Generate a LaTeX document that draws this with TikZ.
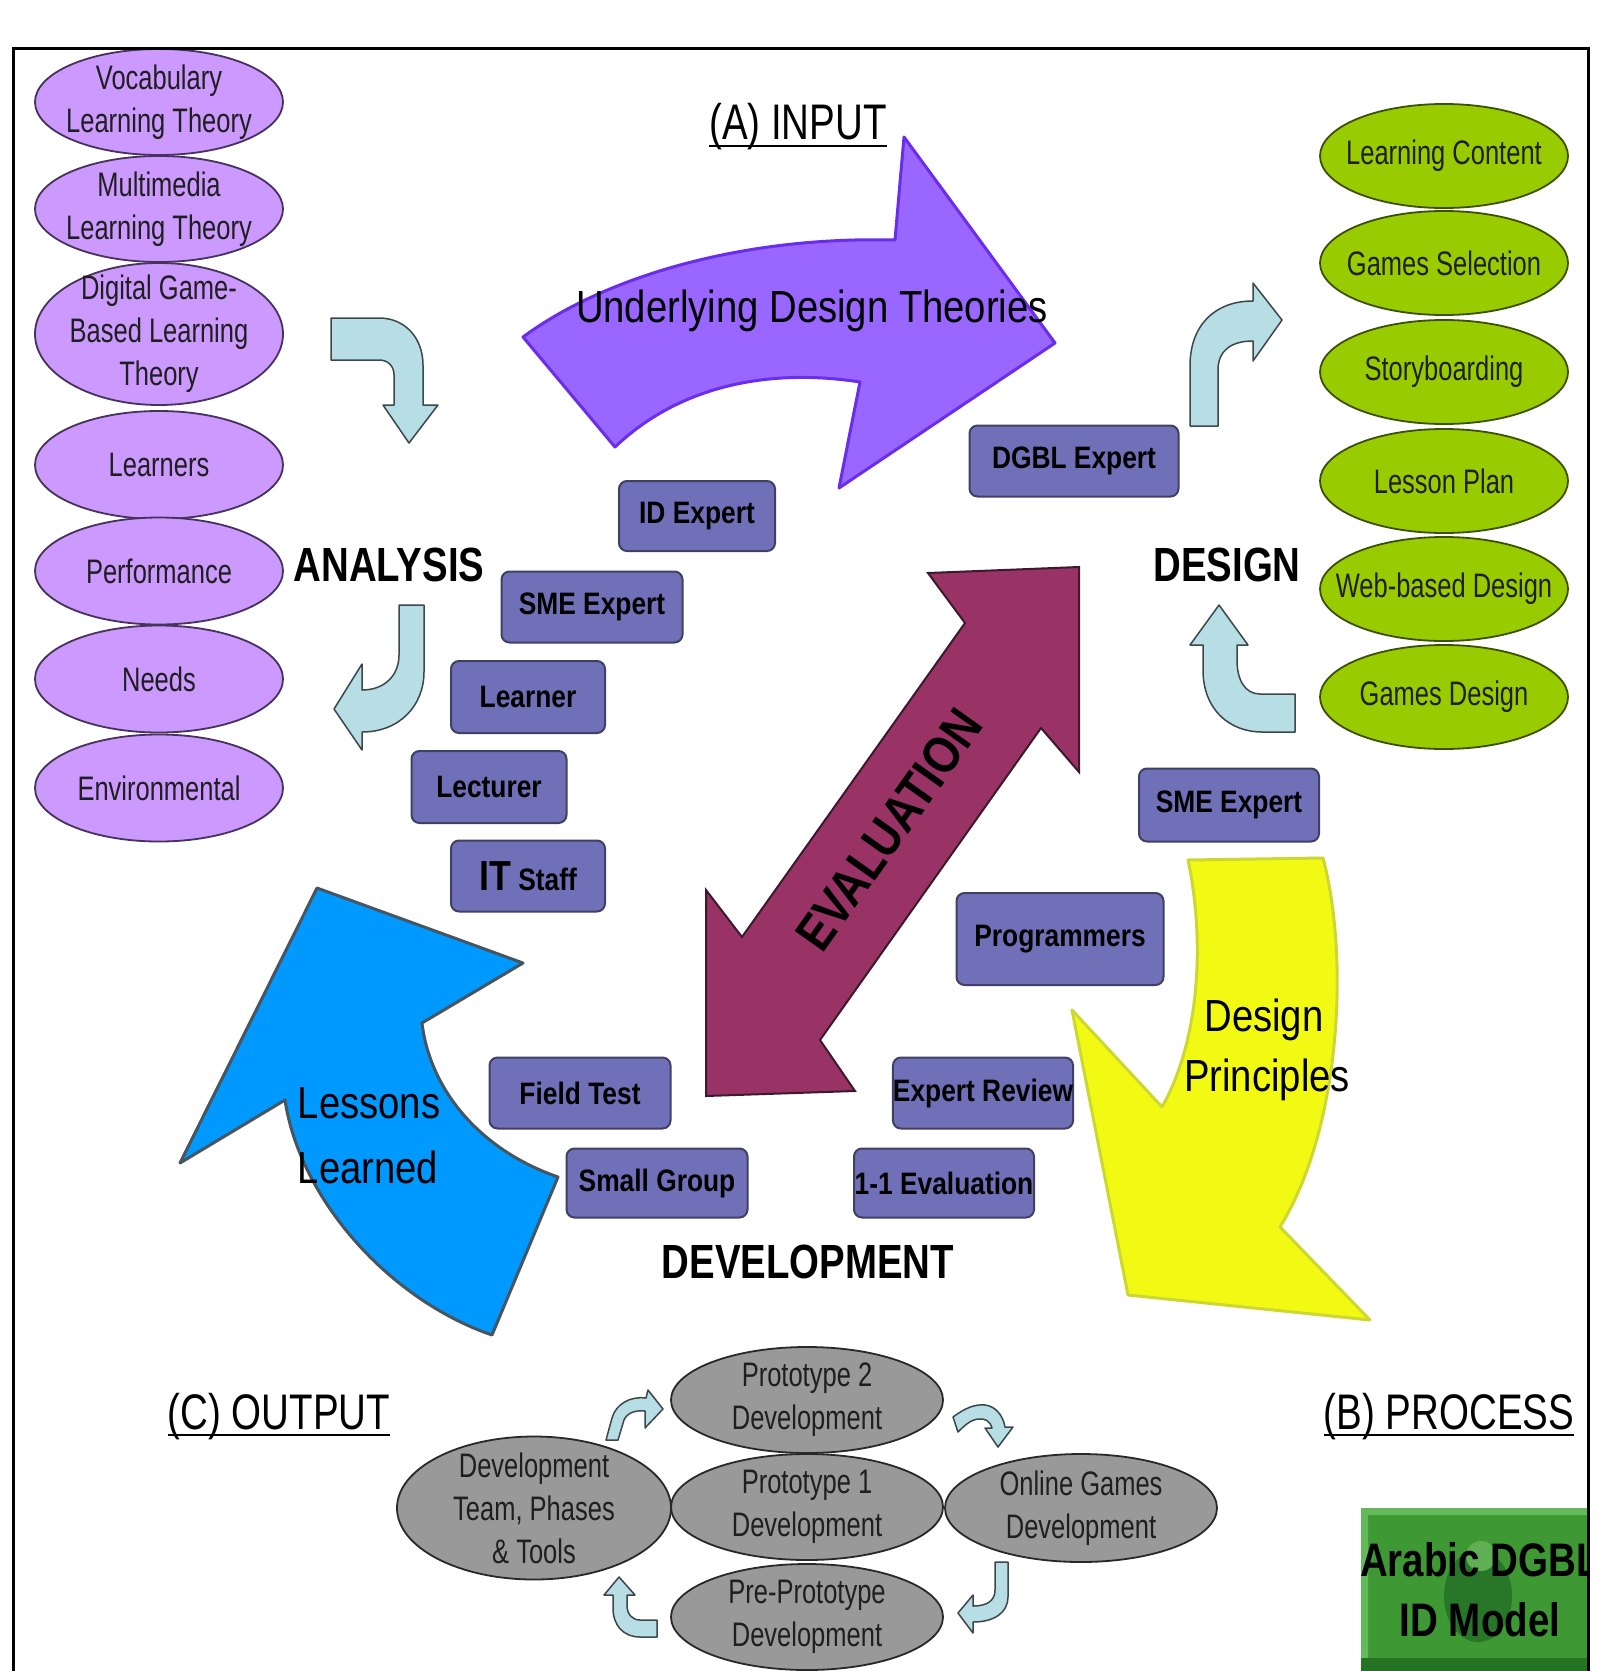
\documentclass[tikz,border=0pt]{standalone}
\usepackage{fontspec}
\setmainfont{Liberation Sans}
\newfontfamily\fnar[FakeStretch=0.75]{Liberation Sans}
\newfontfamily\fmed[FakeStretch=0.85]{Liberation Sans}
\newfontfamily\fcond[FakeStretch=0.8]{Liberation Sans}
\newfontfamily\fttl[FakeStretch=0.77]{Liberation Sans}
\newfontfamily\fbig[FakeStretch=0.82]{Liberation Sans}
\usetikzlibrary{shapes.geometric}
\definecolor{purpEll}{RGB}{204,153,255}
\definecolor{purpLine}{RGB}{70,50,90}
\definecolor{greenEll}{RGB}{153,204,0}
\definecolor{greenLine}{RGB}{60,80,0}
\definecolor{greyEll}{RGB}{153,153,153}
\definecolor{greyLine}{RGB}{40,40,40}
\definecolor{boxFill}{RGB}{112,112,184}
\definecolor{boxLine}{RGB}{64,64,100}
\definecolor{arrPurple}{RGB}{153,102,255}
\definecolor{arrPurpleLine}{RGB}{105,45,235}
\definecolor{maroonF}{RGB}{153,51,102}
\definecolor{maroonLine}{RGB}{60,25,45}
\definecolor{arrBlue}{RGB}{0,153,255}
\definecolor{arrBlueLine}{RGB}{70,85,95}
\definecolor{arrYellow}{RGB}{242,250,20}
\definecolor{arrYellowLine}{RGB}{205,215,50}
\definecolor{lblue}{RGB}{183,222,228}
\definecolor{lblueLine}{RGB}{60,70,75}
\definecolor{gbox}{RGB}{62,152,52}
\definecolor{gboxLight}{RGB}{100,185,90}
\definecolor{gboxDark}{RGB}{35,115,35}
\definecolor{gboxIcon}{RGB}{40,118,40}
\definecolor{gboxIconLight}{RGB}{95,175,85}
\begin{document}
\begin{tikzpicture}[x=1pt,y=-1pt,
  pell/.style={ellipse, draw=purpLine, fill=purpEll, line width=1.8, minimum width=248, minimum height=106, inner sep=0},
  gell/.style={ellipse, draw=greenLine, fill=greenEll, line width=1.8, minimum width=248, minimum height=104, inner sep=0},
  grell/.style={ellipse, draw=greyLine, fill=greyEll, line width=1.8, minimum width=272, minimum height=106, inner sep=0},
  etext/.style={font={\fnar\fontsize{34}{43}\selectfont}, align=center, text=black!88, inner sep=0},
  pbox/.style={draw=boxLine, fill=boxFill, line width=2, rounded corners=8, inner sep=0, minimum height=71, font={\fmed\bfseries\fontsize{31}{36}\selectfont}},
  lbl/.style={font={\fcond\bfseries\fontsize{48}{56}\selectfont}, inner sep=0},
  ttl/.style={font={\fttl\fontsize{50}{58}\selectfont}, inner sep=0},
  atext/.style={font={\fmed\fontsize{45}{54}\selectfont}, inner sep=0},
  bentarr/.style={fill=lblue, draw=lblueLine, line width=1.5, line join=round}]
\clip (0,0) rectangle (1620,1671);
\useasboundingbox (0,0) rectangle (1620,1671);
\fill[white] (0,0) rectangle (1620,1671);

% ---- big arrows ----
\path[draw=arrPurpleLine, fill=arrPurple, line width=3, line join=round]
  (523,337) .. controls (600,280) and (735,236) .. (895,240) -- (904,137) -- (1055,343)
  -- (839,488) -- (860,382) .. controls (770,368) and (680,385) .. (615,447) -- cycle;
\path[draw=arrBlueLine, fill=arrBlue, line width=3, line join=round]
  (317,888) -- (523,963) -- (422,1023) .. controls (430,1090) and (480,1150) .. (558,1177)
  -- (492,1335) .. controls (390,1300) and (300,1200) .. (285,1100) -- (180,1163) -- cycle;
\path[draw=arrYellowLine, fill=arrYellow, line width=3, line join=round]
  (1188,860) .. controls (1205,940) and (1200,1040) .. (1162,1107) -- (1072,1010) -- (1128,1295)
  -- (1370,1320) -- (1280,1227) .. controls (1340,1130) and (1350,960) .. (1323,858) -- cycle;
\path[draw=maroonLine, fill=maroonF, line width=2]
  (706,890) -- (742,937) -- (965,623) -- (928,573) -- (1079,567) -- (1079,772) -- (1041,728)
  -- (820,1040) -- (855,1091) -- (706,1096) -- cycle;

% ---- light blue bent arrows ----
\path[bentarr] (331,318) -- (379,318) .. controls (405,318) and (423,338) .. (423,365) -- (423,405)
  -- (438,405) -- (409,443) -- (383,405) -- (394,405) -- (394,375) .. controls (394,366) and (388,360) .. (379,360) -- (331,360) -- cycle;
\path[bentarr] (399,605) -- (424,605) -- (424,672) .. controls (424,705) and (400,732) .. (362,732)
  -- (362,750) -- (334,709) -- (362,664) -- (362,690) .. controls (385,690) and (399,675) .. (399,655) -- cycle;
\path[bentarr] (1190,426) -- (1190,366) .. controls (1190,325) and (1215,301) .. (1253,301) -- (1253,283)
  -- (1282,320) -- (1253,361) -- (1253,341) .. controls (1232,341) and (1218,350) .. (1218,370) -- (1218,426) -- cycle;
\path[bentarr] (1295,694) -- (1260,694) .. controls (1245,694) and (1237,680) .. (1237,660) -- (1237,645)
  -- (1248,645) -- (1219,605) -- (1190,645) -- (1203,645) -- (1203,670) .. controls (1203,710) and (1230,732) .. (1262,732) -- (1295,732) -- cycle;
% small ones
\path[bentarr] (606,1440) -- (612,1418) .. controls (616,1404) and (630,1396) .. (646,1398) -- (648,1390)
  -- (663,1409) -- (645,1428) -- (645,1411) .. controls (635,1410) and (627,1413) .. (624,1420) -- (618,1440) -- cycle;
\path[bentarr] (953,1417) .. controls (965,1408) and (975,1404) .. (985,1405) .. controls (995,1406) and (1003,1415) .. (1005,1427)
  -- (1013,1427) -- (998,1447) -- (985,1428) -- (992,1428) .. controls (990,1421) and (985,1418) .. (978,1419)
  .. controls (970,1420) and (964,1426) .. (958,1432) -- cycle;
\path[bentarr] (995,1562) -- (1008,1562) -- (1008,1597) .. controls (1008,1612) and (995,1622) .. (973,1622)
  -- (973,1633) -- (958,1613) -- (973,1595) -- (973,1606) .. controls (988,1606) and (995,1600) .. (995,1590) -- cycle;
\path[bentarr] (657,1620) -- (640,1620) .. controls (632,1620) and (627,1614) .. (627,1605) -- (627,1595)
  -- (635,1595) -- (619,1577) -- (604,1595) -- (613,1595) -- (613,1608) .. controls (613,1626) and (624,1637) .. (640,1637) -- (657,1637) -- cycle;

% ---- purple ellipses ----
\node[pell] (p1) at (159,102) {};
\node[etext] (p1t) at (p1) {Vocabulary\\Learning Theory};
\node[pell] (p2) at (159,209) {};
\node[etext] (p2t) at (p2) {Multimedia\\Learning Theory};
\node[pell, minimum height=142] (p3) at (159,334) {};
\node[etext] (p3t) at (p3) {Digital Game-\\Based Learning\\Theory};
\node[pell, minimum height=108] (p4) at (159,465) {};
\node[etext] (p4t) at (p4) {Learners};
\node[pell, minimum height=107] (p5) at (159,571) {};
\node[etext] (p5t) at (p5) {Performance};
\node[pell, minimum height=107] (p6) at (159,679) {};
\node[etext] (p6t) at (p6) {Needs};
\node[pell, minimum height=107] (p7) at (159,788) {};
\node[etext] (p7t) at (p7) {Environmental};

% ---- green ellipses ----
\node[gell] (g1) at (1444,156) {};
\node[etext] (g1t) at (g1) {Learning Content};
\node[gell] (g2) at (1444,263) {};
\node[etext] (g2t) at (g2) {Games Selection};
\node[gell] (g3) at (1444,372) {};
\node[etext] (g3t) at (g3) {Storyboarding};
\node[gell] (g4) at (1444,481) {};
\node[etext] (g4t) at (g4) {Lesson Plan};
\node[gell] (g5) at (1444,589) {};
\node[etext] (g5t) at (g5) {Web-based Design};
\node[gell] (g6) at (1444,697) {};
\node[etext] (g6t) at (g6) {Games Design};

% ---- grey ellipses ----
\node[grell] (d1) at (807,1400) {};
\node[etext] (d1t) at (d1) {Prototype 2\\Development};
\node[grell] (d2) at (807,1507) {};
\node[etext] (d2t) at (d2) {Prototype 1\\Development};
\node[grell] (d3) at (807,1617) {};
\node[etext] (d3t) at (d3) {Pre-Prototype\\Development};
\node[grell, minimum width=274, minimum height=143] (d4) at (534,1508) {};
\node[etext] (d4t) at (d4) {Development\\Team, Phases\\\& Tools};
\node[grell, minimum height=108] (d5) at (1081,1508) {};
\node[etext] (d5t) at (d5) {Online Games\\Development};

% ---- role boxes ----
\node[pbox, minimum width=156, minimum height=70] (idx) at (697,516) {ID Expert};
\node[pbox, minimum width=209] (dgbl) at (1074,461) {DGBL Expert};
\node[pbox, minimum width=181] (smel) at (592,607) {SME Expert};
\node[pbox, minimum width=154, minimum height=72] (lrn) at (528,697) {Learner};
\node[pbox, minimum width=155, minimum height=72] (lec) at (489,787) {Lecturer};
\node[pbox, minimum width=154] (its) at (528,876) {{\fontsize{42}{42}\selectfont IT} Staff};
\node[pbox, minimum width=180, minimum height=73] (smer) at (1229,805) {SME Expert};
\node[pbox, minimum width=207, minimum height=92] (prg) at (1060,939) {Programmers};
\node[pbox, minimum width=180] (exr) at (983,1093) {Expert Review};
\node[pbox, minimum width=180, minimum height=69] (one) at (944,1183) {1-1 Evaluation};
\node[pbox, minimum width=181] (fld) at (580,1093) {Field Test};
\node[pbox, minimum width=181, minimum height=69] (sgr) at (657,1183) {Small Group};

% ---- phase labels ----
\node[lbl, anchor=base] (ana) at (389,581) {ANALYSIS};
\node[lbl, anchor=base] (des) at (1227,581) {DESIGN};
\node[lbl, anchor=base] (dev) at (808,1278) {DEVELOPMENT};
\node[font={\fmed\bfseries\fontsize{52}{60}\selectfont}, inner sep=0, rotate=54.6] (evl) at (889,830) {EVALUATION};

% ---- arrow texts ----
\node[atext, anchor=base] (udt) at (812,322) {Underlying Design Theories};
\node[atext, anchor=base] (dp1) at (1264,1031) {Design};
\node[atext, anchor=base] (dp2) at (1267,1091) {Principles};
\node[atext, anchor=base] (ll1) at (369,1118) {Lessons};
\node[atext, anchor=base] (ll2) at (368,1183) {Learned};

% ---- section titles ----
\node[ttl, anchor=base] (tA) at (798,139) {(A) INPUT};
\draw[line width=2.2] ([yshift=-7pt]tA.base west) -- ([yshift=-7pt]tA.base east);
\node[ttl, anchor=base] (tB) at (1449,1429) {(B) PROCESS};
\draw[line width=2.2] ([yshift=-6pt]tB.base west) -- ([yshift=-6pt]tB.base east);
\node[ttl, anchor=base] (tC) at (279,1429) {(C) OUTPUT};
\draw[line width=2.2] ([yshift=-6pt]tC.base west) -- ([yshift=-6pt]tC.base east);

% ---- green model box ----
\begin{scope}
\clip (0,0) rectangle (1588,1671);
\fill[gbox] (1361,1508) rectangle (1600,1675);
\fill[gboxLight] (1361,1508) -- (1600,1508) -- (1600,1515) -- (1368,1515) -- (1368,1675) -- (1361,1675) -- cycle;
\fill[gboxDark] (1361,1658) rectangle (1600,1675);
\fill[gboxIcon] (1478,1596) ellipse [x radius=34, y radius=46];
\fill[gboxIconLight] (1481,1556) circle [radius=15];
\node[font={\fbig\bfseries\fontsize{47}{60}\selectfont}, align=center, inner sep=0] (mdl) at (1480,1590) {Arabic DGBL\\ID Model};
\end{scope}

% ---- frame ----
\draw[line width=3] (13.5,1680) -- (13.5,48) -- (1588,48) -- (1588,1680);
\end{tikzpicture}
\end{document}
